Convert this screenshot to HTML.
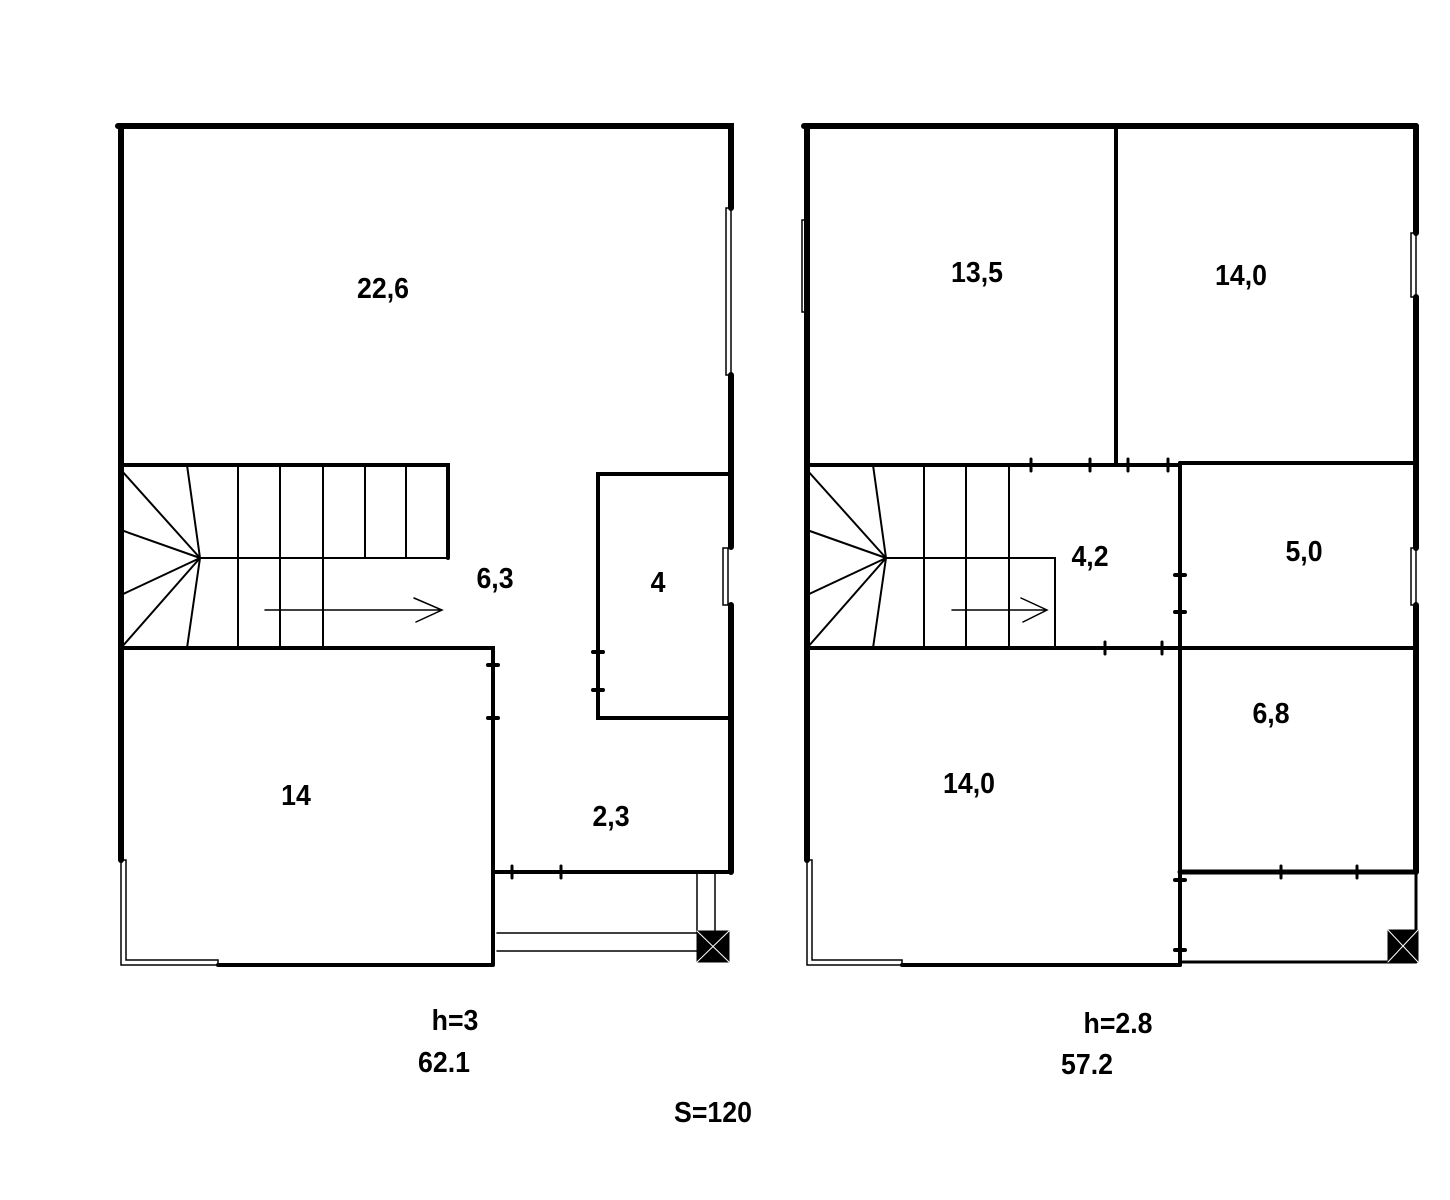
<!DOCTYPE html>
<html><head><meta charset="utf-8"><style>
html,body{margin:0;padding:0;background:#fff;}
svg{display:block}
text{font-family:"Liberation Sans",sans-serif;font-weight:bold;font-size:29px;fill:#000;stroke:none;text-anchor:middle}
</style></head><body>
<svg width="1450" height="1200" viewBox="0 0 1450 1200" xmlns="http://www.w3.org/2000/svg" stroke="#000" fill="none" stroke-linecap="round">
<!-- LEFT PLAN -->
<g>
<path d="M118 126 H731 V208 M731 375 V547 M731 605 V872" stroke-width="6"/>
<rect x="726" y="208" width="5" height="167" stroke-width="1.5"/>
<rect x="723" y="548" width="5" height="57" stroke-width="1.5"/>
<path d="M121 126 V860" stroke-width="6"/>
<path d="M121 465 H448 V558 M121 648 H493 V965 M218 965 H493" stroke-width="4"/>
<path d="M200 558 H448 M187 465 L200 558 L187 648 M238 465 V648 M280 465 V648 M323 465 V648 M365 465 V558 M406 465 V558" stroke-width="2"/>
<path d="M200 558 L121 470 M200 558 L121 530 M200 558 L121 595 M200 558 L121 648" stroke-width="2"/>
<path d="M265 610 H442 M414 598 L442 610 L416 622" stroke-width="1.5"/>
<path d="M731 474 H598 V718 H731" stroke-width="4"/>
<path d="M593 652 H603 M593 690 H603 M488 665 H498 M488 718 H498" stroke-width="4"/>
<path d="M493 872 H731" stroke-width="4"/>
<path d="M512 866 V878 M561 866 V878" stroke-width="3"/>
<path d="M121 860 H126 V960 H218 V965 H121 Z" stroke-width="1.5"/>
<path d="M497 933 H697 M497 951 H697 M697 872 V933 M715 872 V933" stroke-width="1.5"/>
<rect x="697" y="931" width="32" height="31" fill="#000" stroke-width="1"/>
<path d="M697 931 L729 962 M729 931 L697 962" stroke="#fff" stroke-width="1"/>
</g>
<g transform="translate(383,298) scale(0.92,1)"><text>22,6</text></g>
<g transform="translate(495,588) scale(0.92,1)"><text>6,3</text></g>
<g transform="translate(658,592) scale(0.92,1)"><text>4</text></g>
<g transform="translate(296,805) scale(0.92,1)"><text>14</text></g>
<g transform="translate(611,826) scale(0.92,1)"><text>2,3</text></g>

<!-- RIGHT PLAN -->
<g>
<path d="M804 126 H1416" stroke-width="6"/>
<path d="M807 126 V860" stroke-width="6"/>
<path d="M1416 126 V233 M1416 297 V548 M1416 605 V872" stroke-width="6"/>
<rect x="802" y="220" width="5" height="92" stroke-width="1.5"/>
<rect x="1411" y="233" width="5" height="64" stroke-width="1.5"/>
<rect x="1411" y="548" width="5" height="57" stroke-width="1.5"/>
<path d="M1116 126 V465" stroke-width="4"/>
<path d="M807 465 H1180 M807 648 H1416 M1180 463 H1416" stroke-width="4"/>
<path d="M1031 459 V471 M1090 459 V471 M1128 459 V471 M1168 459 V471 M1105 642 V654 M1162 642 V654" stroke-width="3"/>
<path d="M1180 463 V965" stroke-width="4"/>
<path d="M1175 575 H1185 M1175 612 H1185 M1175 880 H1185 M1175 950 H1185" stroke-width="4"/>
<path d="M886 558 H1055 V648 M873 465 L886 558 L873 648 M924 465 V648 M966 465 V648 M1009 465 V648" stroke-width="2"/>
<path d="M886 558 L807 470 M886 558 L807 530 M886 558 L807 595 M886 558 L807 648" stroke-width="2"/>
<path d="M952 610 H1047 M1021 598 L1047 610 L1023 622" stroke-width="1.5"/>
<path d="M1180 872 H1416" stroke-width="5"/>
<path d="M1281 866 V878 M1357 866 V878" stroke-width="3"/>
<path d="M1416 872 V962 M1180 962 H1416" stroke-width="3"/>
<path d="M902 965 H1180" stroke-width="4"/>
<path d="M807 860 H812 V960 H902 V965 H807 Z" stroke-width="1.5"/>
<rect x="1388" y="930" width="30" height="32" fill="#000" stroke-width="1"/>
<path d="M1388 930 L1418 962 M1418 930 L1388 962" stroke="#fff" stroke-width="1"/>
</g>
<g transform="translate(977,282) scale(0.92,1)"><text>13,5</text></g>
<g transform="translate(1241,285) scale(0.92,1)"><text>14,0</text></g>
<g transform="translate(1090,566) scale(0.92,1)"><text>4,2</text></g>
<g transform="translate(1304,561) scale(0.92,1)"><text>5,0</text></g>
<g transform="translate(1271,723) scale(0.92,1)"><text>6,8</text></g>
<g transform="translate(969,793) scale(0.92,1)"><text>14,0</text></g>

<g transform="translate(455,1030) scale(0.92,1)"><text>h=3</text></g>
<g transform="translate(444,1072) scale(0.92,1)"><text>62.1</text></g>
<g transform="translate(1118,1033) scale(0.92,1)"><text>h=2.8</text></g>
<g transform="translate(1087,1074) scale(0.92,1)"><text>57.2</text></g>
<g transform="translate(713,1122) scale(0.92,1)"><text>S=120</text></g>
</svg>
</body></html>
